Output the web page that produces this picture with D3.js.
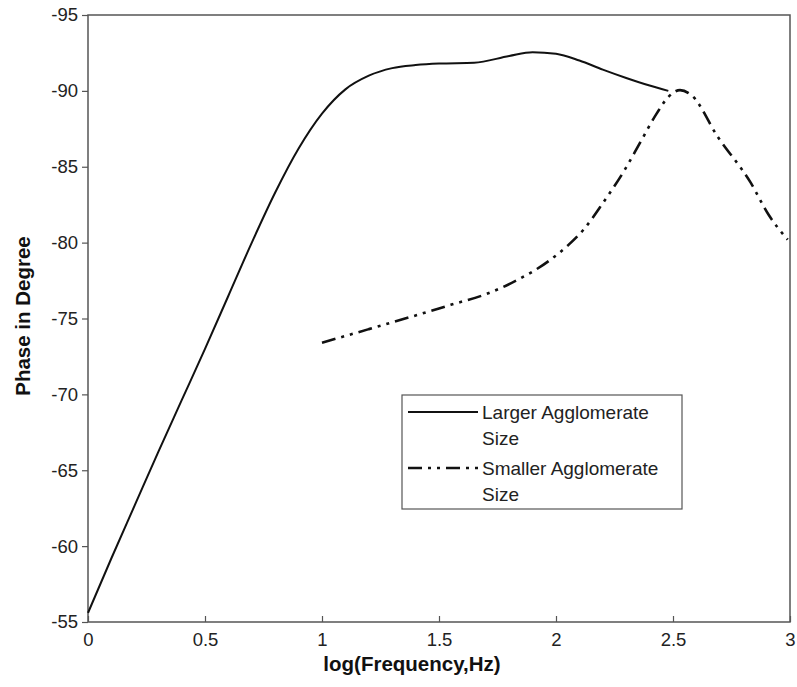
<!DOCTYPE html>
<html>
<head>
<meta charset="utf-8">
<title></title>
<script src="https://cdn.jsdelivr.net/npm/d3@7"></script>
<style>
  body { margin: 0; background: #fff; }
  text { font-family: "Liberation Sans", Arial, sans-serif; }
</style>
</head>
<body>
<script>
// larger agglomerate size (solid)
let largeX = [0, 0.1, 0.2, 0.3, 0.4, 0.5, 0.6, 0.7, 0.8, 0.9, 1.0, 1.1, 1.2, 1.3, 1.4, 1.5, 1.65, 1.8, 1.9, 2.0, 2.1, 2.2, 2.3, 2.4, 2.48];
let largeY = [-55.6, -59.2, -62.7, -66.2, -69.6, -73.0, -76.5, -80.0, -83.3, -86.2, -88.5, -90.1, -91.0, -91.5, -91.7, -91.8, -91.85, -92.3, -92.55, -92.45, -92.0, -91.4, -90.85, -90.35, -90.0];
// smaller agglomerate size (dash-dot)
let smallX = [1.0, 1.2, 1.4, 1.55, 1.7, 1.83, 1.97, 2.05, 2.12, 2.2, 2.29, 2.36, 2.43, 2.48, 2.53, 2.58, 2.69, 2.83, 2.91, 2.99];
let smallY = [-73.4, -74.3, -75.2, -75.9, -76.6, -77.5, -78.8, -79.8, -80.9, -82.6, -84.7, -86.6, -88.5, -89.6, -90.05, -89.7, -87.0, -84.0, -81.8, -80.2];

let xTicks = [0, 0.5, 1, 1.5, 2, 2.5, 3];
let yTicks = [-95, -90, -85, -80, -75, -70, -65, -60, -55];
let legendNames = ['Larger Agglomerate', 'Smaller Agglomerate'];

let W = 797, H = 687;
let mLeft = 88, mRight = 790, mTop = 15, mBottom = 622;

let svg = d3.select('body').append('svg').attr('width', W).attr('height', H);

let x = d3.scaleLinear().domain([0, 3]).range([mLeft, mRight]);
let y = d3.scaleLinear().domain([-95, -55]).range([mTop, mBottom]);

let axisColor = '#555';

// frame
svg.append('rect')
  .attr('x', mLeft).attr('y', mTop)
  .attr('width', mRight - mLeft).attr('height', mBottom - mTop)
  .attr('fill', 'none').attr('stroke', axisColor).attr('stroke-width', 1.5);

// x axis: ticks point inward
let gx = svg.append('g').attr('transform', `translate(0,${mBottom})`)
  .call(d3.axisBottom(x).tickValues(xTicks).tickSize(-6).tickPadding(11).tickFormat(d3.format('')));
gx.select('.domain').remove();
gx.selectAll('line').attr('stroke', axisColor).attr('stroke-width', 1.2);
gx.selectAll('text').attr('font-size', 18.5).attr('fill', '#222');

// y axis: ticks point outward
let gy = svg.append('g').attr('transform', `translate(${mLeft},0)`)
  .call(d3.axisLeft(y).tickValues(yTicks).tickSize(6).tickPadding(4).tickFormat(d => d3.format('')(d).replace('−', '-')));
gy.select('.domain').remove();
gy.selectAll('line').attr('stroke', axisColor).attr('stroke-width', 1.2);
gy.selectAll('text').attr('font-size', 18.5).attr('fill', '#222');

// titles
svg.append('text')
  .attr('x', 412).attr('y', 671)
  .attr('text-anchor', 'middle').attr('font-size', 20.5).attr('font-weight', 'bold').attr('fill', '#111')
  .text('log(Frequency,Hz)');
svg.append('text')
  .attr('transform', 'translate(30,316) rotate(-90)')
  .attr('text-anchor', 'middle').attr('font-size', 20.5).attr('font-weight', 'bold').attr('fill', '#111')
  .text('Phase in Degree');

let line = d3.line().x(d => x(d[0])).y(d => y(d[1])).curve(d3.curveMonotoneX);

let dashDot = '14,6,3,6,3,6';

svg.append('path')
  .attr('d', line(d3.zip(largeX, largeY)))
  .attr('fill', 'none').attr('stroke', '#111').attr('stroke-width', 2);

svg.append('path')
  .attr('d', line(d3.zip(smallX, smallY)))
  .attr('fill', 'none').attr('stroke', '#111').attr('stroke-width', 2.6)
  .attr('stroke-dasharray', dashDot);

// legend
let lg = svg.append('g');
lg.append('rect')
  .attr('x', 402).attr('y', 395).attr('width', 280).attr('height', 114)
  .attr('fill', '#fff').attr('stroke', axisColor).attr('stroke-width', 1.2);

let rows = [
  {y: 412, dash: null, w: 2},
  {y: 468, dash: dashDot, w: 2.6}
];
rows.forEach((r, i) => {
  lg.append('line')
    .attr('x1', 408).attr('x2', 478).attr('y1', r.y).attr('y2', r.y)
    .attr('stroke', '#111').attr('stroke-width', r.w)
    .attr('stroke-dasharray', r.dash);
  let t = lg.append('text').attr('x', 482).attr('y', r.y + 7).attr('font-size', 19).attr('fill', '#222');
  t.append('tspan').attr('x', 482).text(legendNames[i]);
  t.append('tspan').attr('x', 482).attr('dy', 26).text('Size');
});
</script>
</body>
</html>
